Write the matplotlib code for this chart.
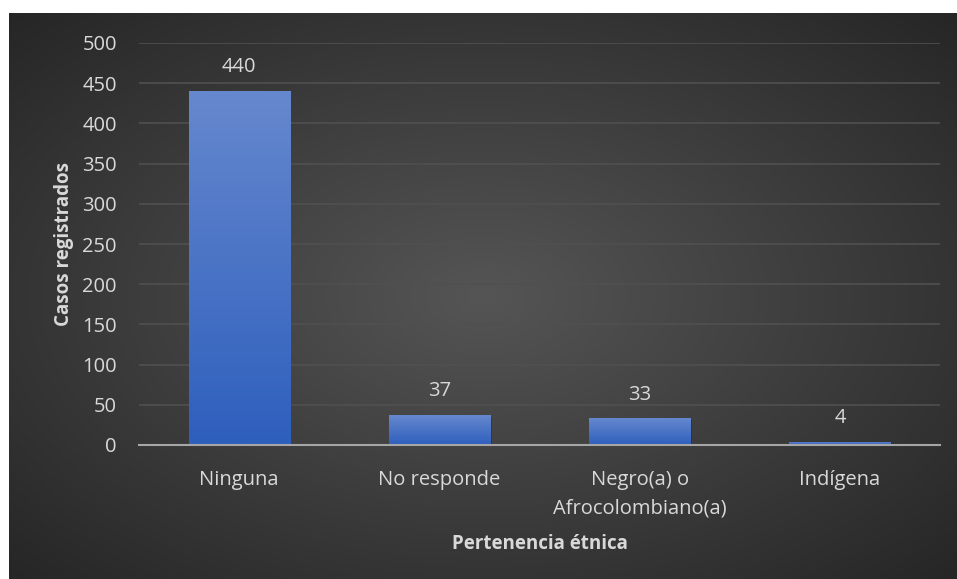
import numpy as np
import matplotlib
matplotlib.use('Agg')
import matplotlib.pyplot as plt
from matplotlib.colors import LinearSegmentedColormap

categorias = ['Ninguna', 'No responde', 'Negro(a) o\nAfrocolombiano(a)', 'Indígena']
casos = [440, 37, 33, 4]
yticks = [0, 50, 100, 150, 200, 250, 300, 350, 400, 450, 500]

plt.rcParams['font.family'] = ['Open Sans', 'DejaVu Sans']
txt = '#d9d9d9'
fs = 14.5

fig = plt.figure(figsize=(9.57, 5.79), dpi=100)
fig.patch.set_facecolor('white')

# fondo oscuro con degradado radial
bg = fig.add_axes([9 / 957, 0, 948 / 957, 566 / 579])
bg.set_axis_off()
yy, xx = np.mgrid[-1:1:300j, -1:1:500j]
r = np.sqrt(xx ** 2 + yy ** 2) / np.sqrt(2)
bg_cmap = LinearSegmentedColormap.from_list('bg', ['#555555', '#262626'])
bg.imshow(r, cmap=bg_cmap, aspect='auto', extent=[0, 1, 0, 1], vmin=0, vmax=1)
bg.set_xlim(0, 1)
bg.set_ylim(0, 1)

ax = fig.add_axes([139 / 957, 134 / 579, 801 / 957, 402 / 579])
ax.patch.set_alpha(0)
x = np.arange(len(categorias))
bars = ax.bar(x, casos, width=0.505, color='#4472c4', zorder=3)

bar_cmap = LinearSegmentedColormap.from_list('bar', ['#2e5fbd', '#6688ce'])
grad = np.linspace(0, 1, 256).reshape(-1, 1)
for b in bars:
    x0, w, h = b.get_x(), b.get_width(), b.get_height()
    # sombra
    ax.bar(x0 + w / 2 + 0.008, h, width=w, bottom=-2, color='black', alpha=0.18, zorder=2)
    im = ax.imshow(grad, cmap=bar_cmap, aspect='auto', origin='lower',
                   extent=[x0, x0 + w, 0, h], zorder=4)
    im.set_clip_path(b)

for xi, v in zip(x, casos):
    ax.annotate(str(v), (xi, v), xytext=(0, 10), textcoords='offset points',
                ha='center', va='bottom', fontsize=fs, color=txt)

ax.set_xlim(-0.5, 3.5)
ax.set_ylim(0, 500)
ax.set_yticks(yticks)
ax.set_xticks(x)
ax.set_xticklabels(categorias, fontsize=fs, color=txt, linespacing=1.55)
ax.tick_params(axis='y', labelsize=fs, labelcolor=txt, length=0, pad=16)
ax.tick_params(axis='x', length=0, pad=18)
ax.grid(axis='y', color='#505050', linewidth=1.2, zorder=0)
for s in ['top', 'right', 'left']:
    ax.spines[s].set_visible(False)
ax.spines['bottom'].set_color('#a6a6a6')
ax.spines['bottom'].set_linewidth(1.5)
ax.spines['bottom'].set_zorder(5)

ax.set_ylabel('Casos registrados', fontsize=13.5, fontweight='bold', color=txt, labelpad=6)
ax.set_xlabel('Pertenencia étnica', fontsize=13.5, fontweight='bold', color=txt, labelpad=11)

fig.savefig('out.png', dpi=100)
